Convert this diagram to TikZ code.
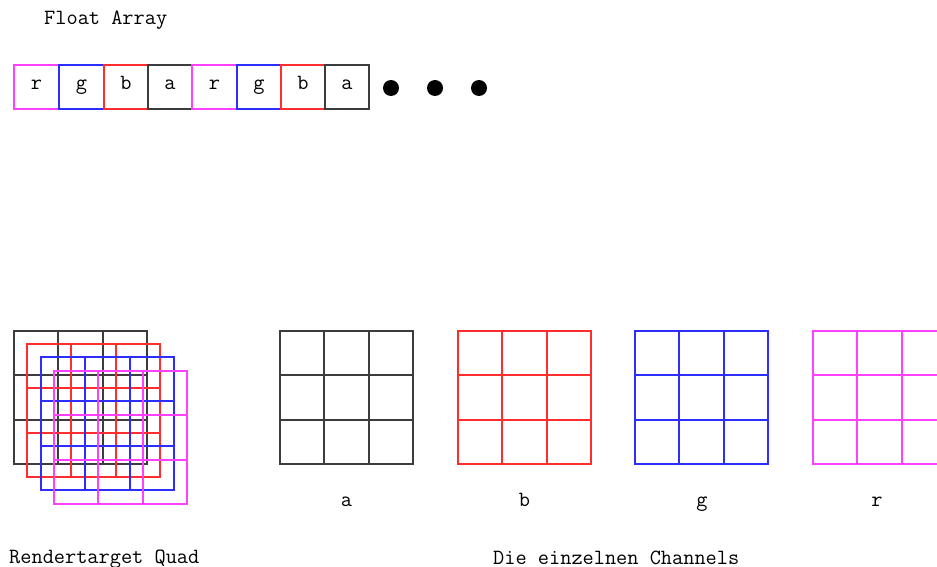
\documentclass[tikz,border=0pt]{standalone}
\begin{document}
\begin{tikzpicture}[x=1bp,y=-1bp,
  txt/.style={font=\fontsize{21.8}{24}\selectfont\ttfamily, inner sep=0pt, anchor=base},
  cell/.style={draw, line width=1.8bp, minimum height=44bp, inner sep=0pt, outer sep=0pt,
    text height=1.6ex, text depth=0.3ex, font=\fontsize{21.8}{24}\selectfont\ttfamily},
  chA/.style={draw={rgb,255:red,60;green,60;blue,60}, line width=1.8bp},
  chB/.style={draw={rgb,255:red,255;green,45;blue,45}, line width=1.8bp},
  chG/.style={draw={rgb,255:red,45;green,45;blue,255}, line width=1.8bp},
  chR/.style={draw={rgb,255:red,255;green,64;blue,255}, line width=1.8bp},
  elli/.style={circle, fill=black, minimum size=16bp, inner sep=0pt}]
\useasboundingbox (0,0) rectangle (937,567);

% 3x3 channel grid: #1,#2 = top left corner, #3 = style
\newcommand\chgrid[3]{%
  \draw[#3] (#1,#2) rectangle ++(133,133);
  \foreach \k in {44,89} {
    \draw[#3] ({#1+\k},#2) -- ++(0,133);
    \draw[#3] (#1,{#2+\k}) -- ++(133,0);
  }}

% float array
\node[txt, anchor=base west] (title) at (44,25) {Float Array};
\node[cell, chR, minimum width=45bp] (c1) at (36.5,87) {r};
\node[cell, chG, minimum width=45bp] (c2) at (81.5,87) {g};
\node[cell, chB, minimum width=44bp] (c3) at (126,87) {b};
\node[cell, chA, minimum width=44bp] (c4) at (170,87) {a};
\node[cell, chR, minimum width=45bp] (c5) at (214.5,87) {r};
\node[cell, chG, minimum width=44bp] (c6) at (259,87) {g};
\node[cell, chB, minimum width=44bp] (c7) at (303,87) {b};
\node[cell, chA, minimum width=44bp] (c8) at (347,87) {a};
\node[elli] (d1) at (391,88) {};
\node[elli] (d2) at (435,88) {};
\node[elli] (d3) at (479,88) {};

% stacked render target
\chgrid{14}{331}{chA}
\chgrid{27}{344}{chB}
\chgrid{41}{357}{chG}
\chgrid{54}{371}{chR}
\node[txt, anchor=base west] (rt) at (9,563) {Rendertarget Quad};

% single channels
\chgrid{280}{331}{chA}
\chgrid{458}{331}{chB}
\chgrid{635}{331}{chG}
\chgrid{813}{331}{chR}
\node[txt] (la) at (346.5,506) {a};
\node[txt] (lb) at (524.5,506) {b};
\node[txt] (lg) at (702,506) {g};
\node[txt] (lr) at (877,506) {r};
\node[txt, anchor=base west] (ch) at (493,564) {Die einzelnen Channels};
\end{tikzpicture}
\end{document}
